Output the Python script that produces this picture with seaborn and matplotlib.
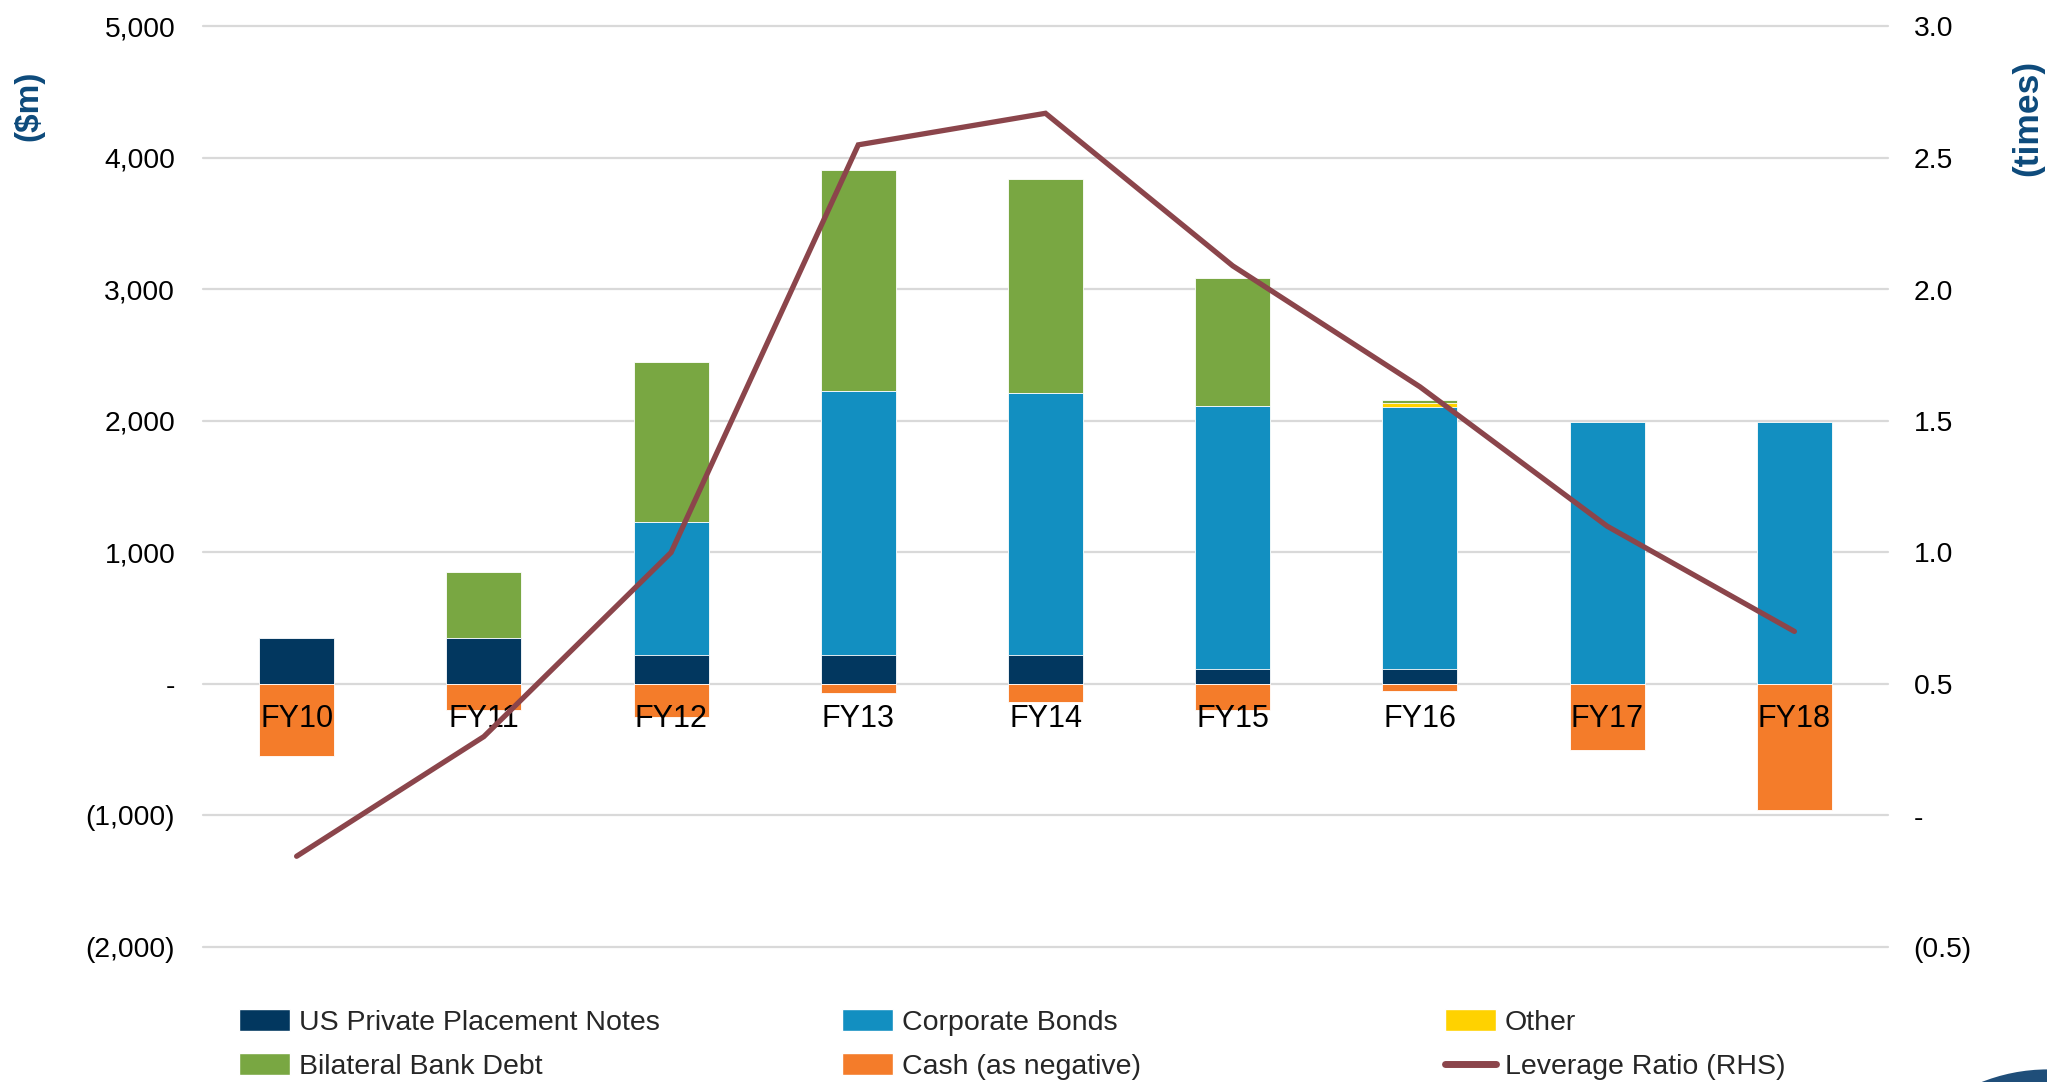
import numpy as np
import pandas as pd
import matplotlib
matplotlib.use("Agg")
import matplotlib.pyplot as plt
from matplotlib.patches import Patch, Ellipse
from matplotlib.lines import Line2D
from matplotlib.ticker import FuncFormatter
import seaborn as sns

# ---------------- data ----------------
categories = ["FY10", "FY11", "FY12", "FY13", "FY14", "FY15", "FY16", "FY17", "FY18"]
us_private_placement = [350, 350, 220, 220, 220, 115, 115, 0, 0]
corporate_bonds = [0, 0, 1010, 2005, 1990, 2000, 1995, 1990, 1990]
other = [0, 0, 0, 0, 0, 0, 25, 0, 0]
bilateral_bank_debt = [0, 500, 1220, 1680, 1630, 970, 25, 0, 0]
cash_negative = [-550, -200, -250, -70, -140, -200, -50, -500, -960]
leverage_ratio = [-0.155, 0.30, 1.0, 2.55, 2.67, 2.09, 1.63, 1.10, 0.70]

left_ticks = [-2000, -1000, 0, 1000, 2000, 3000, 4000, 5000]
right_ticks = [-0.5, 0.0, 0.5, 1.0, 1.5, 2.0, 2.5, 3.0]

# ---------------- style ----------------
C_USPP = "#02375F"
C_CB = "#128FC1"
C_OTHER = "#FFD200"
C_BIL = "#79A742"
C_CASH = "#F47C2A"
C_LEV = "#8B454B"
C_LABEL = "#0D4A7B"
C_GRID = "#D9D9D9"

sns.set_theme(style="white")
plt.rcParams["font.family"] = ["Liberation Sans", "DejaVu Sans"]

df = pd.DataFrame({
    "cat": categories,
    "uspp": us_private_placement,
    "cb": corporate_bonds,
    "other": other,
    "bil": bilateral_bank_debt,
    "cash": cash_negative,
    "lev": leverage_ratio,
})
df["s1"] = df["uspp"]
df["s2"] = df["s1"] + df["cb"]
df["s3"] = df["s2"] + df["other"]
df["s4"] = df["s3"] + df["bil"]

W, H = 2047, 1082
fig = plt.figure(figsize=(W / 100, H / 100), dpi=100)
ax = fig.add_axes([203 / W, 1 - 947 / H, 1685 / W, (947 - 26.5) / H])

bw = 0.40
edge = dict(edgecolor="white", linewidth=0.6)
# stacked bars drawn as overlaid cumulative totals (tallest first)
for col, color in [("s4", C_BIL), ("s3", C_OTHER), ("s2", C_CB), ("s1", C_USPP)]:
    sns.barplot(data=df, x="cat", y=col, order=categories, color=color,
                saturation=1, width=bw, errorbar=None, ax=ax, zorder=2, **edge)
sns.barplot(data=df, x="cat", y="cash", order=categories, color=C_CASH,
            saturation=1, width=bw, errorbar=None, ax=ax, zorder=2, **edge)

ax.set_xlim(-0.5, len(categories) - 0.5)
ax.set_ylim(-2000, 5000)
ax.set_yticks(left_ticks)
ax.set_xlabel("")
ax.set_ylabel("")
ax.set_axisbelow(True)
ax.yaxis.grid(True, color=C_GRID, linewidth=1.6)
ax.xaxis.grid(False)
for s in ax.spines.values():
    s.set_visible(False)


def fmt_left(v, pos):
    if abs(v) < 1e-9:
        return "-"
    if v < 0:
        return "({:,.0f})".format(-v)
    return "{:,.0f}".format(v)


ax.yaxis.set_major_formatter(FuncFormatter(fmt_left))
ax.tick_params(axis="y", length=0, pad=20, labelsize=20.3, labelcolor="black")
ax.tick_params(axis="x", length=0, labelbottom=False)

# category labels just below the zero line, drawn above the bars
for i, cat in enumerate(categories):
    ax.annotate(cat, xy=(i, 0), xytext=(0, -25), textcoords="offset points",
                ha="center", va="center", fontsize=22, color="black", zorder=5)

# ---------------- right axis: leverage ----------------
ax2 = ax.twinx()
x_pos = np.arange(len(categories))
sns.lineplot(x=x_pos, y=df["lev"].values, ax=ax2, color=C_LEV, linewidth=3.8,
             solid_capstyle="round", solid_joinstyle="miter", legend=False)
ax2.set_ylim(-0.5, 3.0)
ax2.set_yticks(right_ticks)
ax2.grid(False)
for s in ax2.spines.values():
    s.set_visible(False)


def fmt_right(v, pos):
    if abs(v) < 1e-9:
        return "-"
    if v < 0:
        return "({:.1f})".format(-v)
    return "{:.1f}".format(v)


ax2.yaxis.set_major_formatter(FuncFormatter(fmt_right))
ax2.tick_params(axis="y", length=0, pad=18.5, labelsize=20.3, labelcolor="black")
ax2.set_ylabel("")
ax2.set_xlim(-0.5, len(categories) - 0.5)

# axis titles
fig.text(29 / W, 1 - 106 / H, "($m)", rotation=90, ha="center", va="center",
         fontsize=24, fontweight="bold", color=C_LABEL)
fig.text(2028 / W, 1 - 118 / H, "(times)", rotation=90, ha="center", va="center",
         fontsize=25.5, fontweight="bold", color=C_LABEL)

# ---------------- legend (three columns) ----------------
leg_kw = dict(loc="upper left", frameon=False, fontsize=20.5, borderpad=0,
              borderaxespad=0, handlelength=1.8, handleheight=0.8,
              handletextpad=0.3, labelspacing=0.62)
cols = [
    (239, [Patch(facecolor=C_USPP), Patch(facecolor=C_BIL)],
     ["US Private Placement Notes", "Bilateral Bank Debt"]),
    (842, [Patch(facecolor=C_CB), Patch(facecolor=C_CASH)],
     ["Corporate Bonds", "Cash (as negative)"]),
    (1445, [Patch(facecolor=C_OTHER), Line2D([], [], color=C_LEV, lw=5)],
     ["Other", "Leverage Ratio (RHS)"]),
]
for xpx, hs, ls in cols:
    fig.legend(hs, ls, bbox_to_anchor=(xpx / W, 1 - 1009 / H), **leg_kw)

# partial logo shape at bottom-right corner
r = 182
fig.patches.append(Ellipse((2048 / W, 1 - 1250 / H), 2 * r / W, 2 * r / H,
                           transform=fig.transFigure, facecolor="#1F4E79",
                           edgecolor="white", linewidth=2, figure=fig))

# keep the outermost gridlines fully visible
fig.canvas.draw()
for gl in ax.yaxis.get_gridlines():
    gl.set_clip_on(False)

fig.savefig("out.png", dpi=100)
